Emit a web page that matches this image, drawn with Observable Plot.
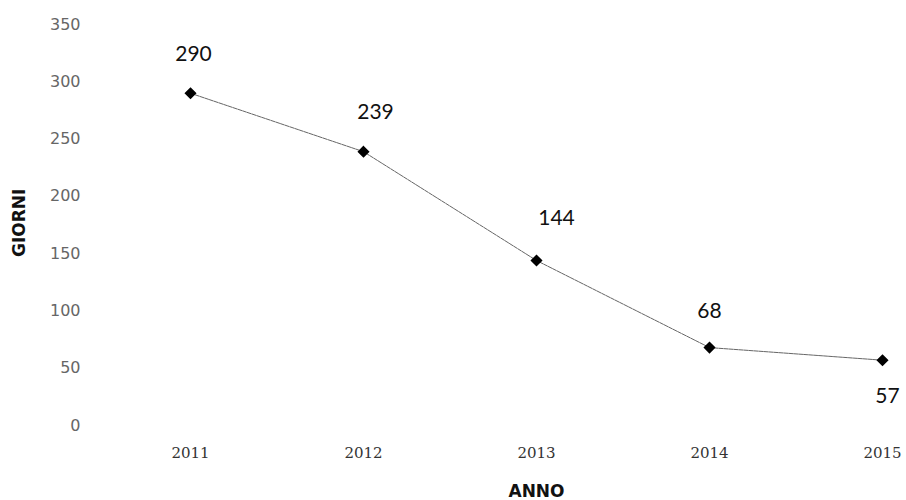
<!DOCTYPE html>
<html><head><meta charset="utf-8">
<script src="https://cdn.jsdelivr.net/npm/d3@7"></script>
<script src="https://cdn.jsdelivr.net/npm/@observablehq/plot@0.6"></script>
<style>body{margin:0;background:#fff}</style>
</head><body><div id="chart"></div>
<script>
const years = ["2011","2012","2013","2014","2015"];
const giorni = [290, 239, 144, 68, 57];
const yTicks = [0, 50, 100, 150, 200, 250, 300, 350];
const data = years.map((y, i) => ({anno: y, giorni: giorni[i], i}));

const labelStyle = {x: "anno", y: "giorni", text: d => String(d.giorni), fontSize: 21, fontFamily: "Lato", fill: "#111"};
const label = (i, dx, dy) => Plot.text(data.filter(d => d.i === i), {...labelStyle, dx, dy});

const chart = Plot.plot({
  width: 906, height: 500,
  marginLeft: 190, marginRight: 24, marginTop: 24, marginBottom: 75,
  style: {background: "#fff"},
  x: {type: "point", domain: years, padding: 0, label: null},
  y: {domain: [0, 350], label: null},
  marks: [
    Plot.axisY({ticks: yTicks, tickSize: 0, tickPadding: 110, fontSize: 16, fill: "#666", fontFamily: "DejaVu Sans", label: null}),
    Plot.axisX({tickSize: 0, tickPadding: 22, fontSize: 15, fill: "#333", fontFamily: "DejaVu Serif", label: null}),
    Plot.line(data, {x: "anno", y: "giorni", stroke: "#666", strokeWidth: 1, strokeDasharray: "4,1"}),
    Plot.dot(data, {x: "anno", y: "giorni", symbol: "diamond2", r: 4.5, fill: "#000", stroke: "#000"}),
    label(0, 3, -39),
    label(1, 12, -39),
    label(2, 20, -42),
    label(3, 0, -36),
    label(4, 5, 36),
    Plot.text(["GIORNI"], {frameAnchor: "left", dx: -171, dy: 32, rotate: -90, fontSize: 17, fontWeight: "bold", fontFamily: "DejaVu Sans", fill: "#111"}),
    Plot.text(["ANNO"], {frameAnchor: "bottom", dy: 71, dx: 0, fontSize: 17, fontWeight: "bold", fontFamily: "DejaVu Sans", fill: "#111"})
  ]
});
document.getElementById("chart").appendChild(chart);
</script>
</body></html>
